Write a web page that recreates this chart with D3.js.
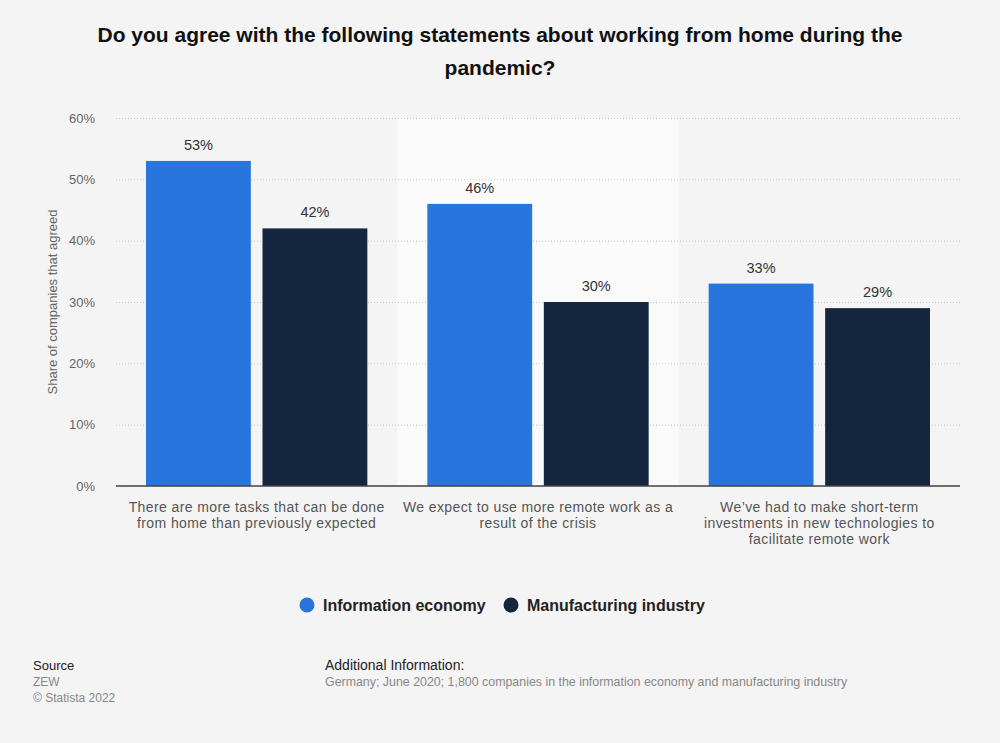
<!DOCTYPE html>
<html>
<head>
<meta charset="utf-8">
<script src="https://cdn.jsdelivr.net/npm/d3@7"></script>
<style>
  body { margin: 0; background: #f4f4f4; }
  svg { font-family: 'Liberation Sans', Arial, sans-serif; }
</style>
</head>
<body>
<svg id="chart" width="1000" height="743"></svg>
<script>
'use strict';

// statements on the x axis (already wrapped in lines)
const categories = [
  ['There are more tasks that can be done', 'from home than previously expected'],
  ['We expect to use more remote work as a', 'result of the crisis'],
  ['We\u2019ve had to make short-term', 'investments in new technologies to', 'facilitate remote work']
];
const seriesNames = ['Information economy', 'Manufacturing industry'];
const infoEconomy = [53, 46, 33];
const manufacturing = [42, 30, 29];
const yTicks = [0, 10, 20, 30, 40, 50, 60];
const colors = ['#2876dd', '#13263d'];

const svg = d3.select('#chart');
const margin = {left: 116, right: 960, top: 118, bottom: 486};

const x0 = d3.scaleBand()
  .domain(d3.range(categories.length))
  .range([margin.left, margin.right])
  .paddingInner(0)
  .paddingOuter(0);

const x1 = d3.scaleBand()
  .domain(d3.range(seriesNames.length))
  .range([30, x0.bandwidth() - 30])
  .paddingInner(0.1);

const y = d3.scaleLinear().domain([0, 60]).range([margin.bottom, margin.top]);

// title
svg.append('text')
  .attr('x', 500).attr('y', 42)
  .attr('text-anchor', 'middle')
  .style('font-size', '21px').style('font-weight', 'bold').style('fill', '#111')
  .selectAll('tspan')
  .data(['Do you agree with the following statements about working from home during the', 'pandemic?'])
  .enter().append('tspan')
  .attr('x', 500)
  .attr('dy', function(d, i) { return i === 0 ? 0 : 33; })
  .text(function(d) { return d; });

// light band behind the middle group
svg.append('rect')
  .attr('x', x0(1)).attr('y', margin.top)
  .attr('width', x0.bandwidth()).attr('height', margin.bottom - margin.top)
  .style('fill', '#fafafa');

// gridlines + tick labels
const yAxis = d3.axisLeft(y)
  .tickValues(yTicks)
  .tickSize(-(margin.right - margin.left))
  .tickFormat(function(d) { return d + '%'; });

const gy = svg.append('g')
  .attr('transform', 'translate(' + margin.left + ',0)')
  .call(yAxis);
gy.select('.domain').remove();
gy.selectAll('.tick line')
  .style('stroke', '#c8c8c8')
  .style('stroke-dasharray', '1,2');
gy.selectAll('.tick text')
  .attr('x', -21)
  .style('font-size', '13px')
  .style('fill', '#666')
  .style('font-family', "'Liberation Sans', Arial, sans-serif");

// y axis title
svg.append('text')
  .attr('transform', 'translate(57,' + (margin.top + margin.bottom) / 2 + ') rotate(-90)')
  .attr('text-anchor', 'middle')
  .style('font-size', '13px').style('fill', '#666')
  .text('Share of companies that agreed');

// bars
const rows = categories.map(function(c, i) {
  return [infoEconomy[i], manufacturing[i]];
});

const groups = svg.selectAll('g.group')
  .data(rows)
  .enter().append('g')
  .attr('class', 'group')
  .attr('transform', function(d, i) { return 'translate(' + x0(i) + ',0)'; });

groups.selectAll('rect')
  .data(function(d) { return d; })
  .enter().append('rect')
  .attr('x', function(d, i) { return x1(i); })
  .attr('y', function(d) { return y(d); })
  .attr('width', x1.bandwidth())
  .attr('height', function(d) { return y(0) - y(d); })
  .style('fill', function(d, i) { return colors[i]; });

groups.selectAll('text.value')
  .data(function(d) { return d; })
  .enter().append('text')
  .attr('class', 'value')
  .attr('x', function(d, i) { return x1(i) + x1.bandwidth() / 2; })
  .attr('y', function(d) { return y(d) - 11; })
  .attr('text-anchor', 'middle')
  .style('font-size', '14.5px').style('fill', '#333')
  .text(function(d) { return d + '%'; });

// baseline
svg.append('line')
  .attr('x1', margin.left).attr('x2', margin.right)
  .attr('y1', y(0)).attr('y2', y(0))
  .style('stroke', '#444').style('stroke-width', 1.5);

// category labels
svg.selectAll('text.cat')
  .data(categories)
  .enter().append('text')
  .attr('class', 'cat')
  .attr('text-anchor', 'middle')
  .style('font-size', '14px').style('letter-spacing', '0.4px').style('fill', '#555')
  .each(function(lines, i) {
    const cx = x0(i) + x0.bandwidth() / 2;
    d3.select(this).selectAll('tspan')
      .data(lines)
      .enter().append('tspan')
      .attr('x', cx)
      .attr('y', function(d, j) { return 512 + j * 16; })
      .text(function(d) { return d; });
  });

// legend
const legendX = [307, 511];
const legend = svg.selectAll('g.legend')
  .data(seriesNames)
  .enter().append('g')
  .attr('class', 'legend')
  .attr('transform', function(d, i) { return 'translate(' + legendX[i] + ',605)'; });
legend.append('circle')
  .attr('r', 7.5)
  .style('fill', function(d, i) { return colors[i]; });
legend.append('text')
  .attr('x', 16).attr('y', 5.5)
  .style('font-size', '16px').style('font-weight', 'bold').style('fill', '#222')
  .text(function(d) { return d; });

// footer
const footer = svg.append('g').style('font-size', '12px');
footer.append('text').attr('x', 33).attr('y', 670).style('fill', '#222').style('font-size', '13px').text('Source');
footer.append('text').attr('x', 33).attr('y', 686).style('fill', '#888').text('ZEW');
footer.append('text').attr('x', 33).attr('y', 702).style('fill', '#888').text('\u00a9 Statista 2022');
footer.append('text').attr('x', 325).attr('y', 670).style('fill', '#222').style('font-size', '14px').text('Additional Information:');
footer.append('text').attr('x', 325).attr('y', 686).style('fill', '#888').style('font-size', '12.4px')
  .text('Germany; June 2020; 1,800 companies in the information economy and manufacturing industry');
</script>
</body>
</html>
